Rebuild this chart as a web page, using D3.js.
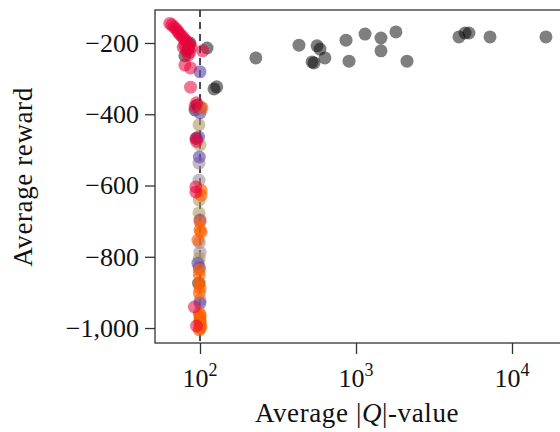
<!DOCTYPE html>
<html>
<head>
<meta charset="utf-8">
<script src="https://cdn.jsdelivr.net/npm/d3@7"></script>
<style>
    body { margin: 0; background: #fff; }
    svg { display: block; font-family: "Liberation Serif", "DejaVu Serif", serif; }
    .tick-label { font-size: 26px; fill: #111; }
    .axis-label { font-size: 27px; fill: #111; letter-spacing: 0.6px; }
</style>
</head>
<body>
<svg id="chart" width="560" height="432"></svg>
<script>
"use strict";

// data: [average |Q|-value, average reward]
var gray_runs = [
    [111, -214], [123, -329], [128, -323], [228, -242], [431, -206], [563, -208],
    [588, -217], [632, -242], [523, -253], [538, -256], [863, -192], [902, -251],
    [1143, -175], [1446, -186], [1446, -222], [1803, -169], [2123, -251], [4570, -183],
    [5000, -172], [5300, -172], [7230, -183], [16500, -183],
    [86, -200], [80, -236], [84, -216], [96, -374], [93, -388], [95, -468], [98, -874]
];
var taupe_runs = [[98.5, -537], [98.5, -585], [100, -787], [100, -921], [99, -760]];
var tan_runs = [[98.5, -430], [100, -486], [99, -641], [98.5, -677], [99, -804]];
var purple_runs = [
    [100, -281], [101, -382], [100, -396], [98, -464], [99, -520], [100, -697],
    [97, -818], [100, -930], [99, -830]
];
var orange_runs = [
    [103, -382], [101.5, -613], [101.5, -627], [100, -702], [101.5, -731], [100, -725],
    [97, -753], [99, -837], [99, -851], [99, -874], [100, -888], [99, -902],
    [99, -958], [100, -964], [100, -969], [100, -978], [100, -983], [100, -990],
    [101.5, -997], [100, -1000], [99, -1005]
];
var red_runs = [
    [64, -145], [66, -149], [68, -155], [70, -160], [72, -166], [73, -172], [75, -177],
    [77, -182], [79, -188], [81, -193], [83, -199], [86, -204], [88, -212], [80, -206],
    [78, -212], [82, -222], [86, -226], [84, -234], [104, -222], [80, -262], [87, -270],
    [87, -324], [95, -368], [93, -378], [94, -468], [95, -476], [94, -604], [94, -618],
    [92, -941], [95, -994]
];

var x_ticks = [1e2, 1e3, 1e4];
var x_tick_exponents = ["2", "3", "4"];
var y_ticks = [-200, -400, -600, -800, -1000];
var q_reference = 100;

// drawing order, back to front
var series = [
    { points: gray_runs, color: "#000000", opacity: 0.5 },
    { points: taupe_runs, color: "#a08c98", opacity: 0.6 },
    { points: tan_runs, color: "#b09a60", opacity: 0.6 },
    { points: purple_runs, color: "#6650b0", opacity: 0.65 },
    { points: orange_runs, color: "#ff6000", opacity: 0.65 },
    { points: red_runs, color: "#e8003a", opacity: 0.55 }
];

var plot = { left: 155, right: 590, top: 10, bottom: 343 };

var x = d3.scaleLog()
    .domain([Math.pow(10, 1.7115), Math.pow(10, 4.5)])
    .range([plot.left, plot.right]);

var y = d3.scaleLinear()
    .domain([-1042, -107.4])
    .range([plot.bottom, plot.top]);

var svg = d3.select("#chart");

// reference line at |Q| = 100
svg.append("line")
    .attr("x1", x(q_reference))
    .attr("x2", x(q_reference))
    .attr("y1", plot.top)
    .attr("y2", plot.bottom)
    .attr("stroke", "#111")
    .attr("stroke-width", 1.5)
    .attr("stroke-dasharray", "7,5");

// points
series.forEach(function (s) {
    svg.append("g")
        .selectAll("circle")
        .data(s.points)
        .enter().append("circle")
        .attr("cx", function (d) { return x(d[0]); })
        .attr("cy", function (d) { return y(d[1]); })
        .attr("r", 6.5)
        .attr("fill", s.color)
        .attr("fill-opacity", s.opacity);
});

// frame
svg.append("rect")
    .attr("x", plot.left)
    .attr("y", plot.top)
    .attr("width", plot.right - plot.left)
    .attr("height", plot.bottom - plot.top)
    .attr("fill", "none")
    .attr("stroke", "#333")
    .attr("stroke-width", 1.3);

// y axis
var y_axis = svg.append("g")
    .attr("transform", "translate(" + plot.left + ",0)")
    .call(d3.axisLeft(y)
        .tickValues(y_ticks)
        .tickSize(10)
        .tickPadding(6)
        .tickFormat(d3.format(",")));
y_axis.select(".domain").remove();
y_axis.selectAll(".tick line").attr("stroke", "#333").attr("stroke-width", 1.3);
y_axis.attr("font-family", null).attr("font-size", null);
y_axis.selectAll(".tick text")
    .attr("class", "tick-label")
    .attr("dy", "0.32em");

// x axis, labels as powers of ten
var x_axis = svg.append("g")
    .attr("transform", "translate(0," + plot.bottom + ")")
    .call(d3.axisBottom(x)
        .tickValues(x_ticks)
        .tickSize(11)
        .tickFormat(""));
x_axis.select(".domain").remove();
x_axis.selectAll(".tick line").attr("stroke", "#333").attr("stroke-width", 1.3);

var x_labels = svg.append("g").selectAll("text")
    .data(x_ticks)
    .enter().append("text")
    .attr("class", "tick-label")
    .attr("x", function (d) { return x(d); })
    .attr("y", 387)
    .attr("text-anchor", "middle");
x_labels.append("tspan").text("10");
x_labels.append("tspan")
    .attr("dy", -11)
    .attr("font-size", "18px")
    .text(function (d, i) { return x_tick_exponents[i]; });

// axis labels
var x_title = svg.append("text")
    .attr("class", "axis-label")
    .attr("x", 357)
    .attr("y", 422)
    .attr("text-anchor", "middle");
x_title.append("tspan").text("Average |");
x_title.append("tspan").attr("font-style", "italic").text("Q");
x_title.append("tspan").text("|-value");

svg.append("text")
    .attr("class", "axis-label")
    .attr("transform", "translate(32,177) rotate(-90)")
    .attr("text-anchor", "middle")
    .text("Average reward");
</script>
</body>
</html>
